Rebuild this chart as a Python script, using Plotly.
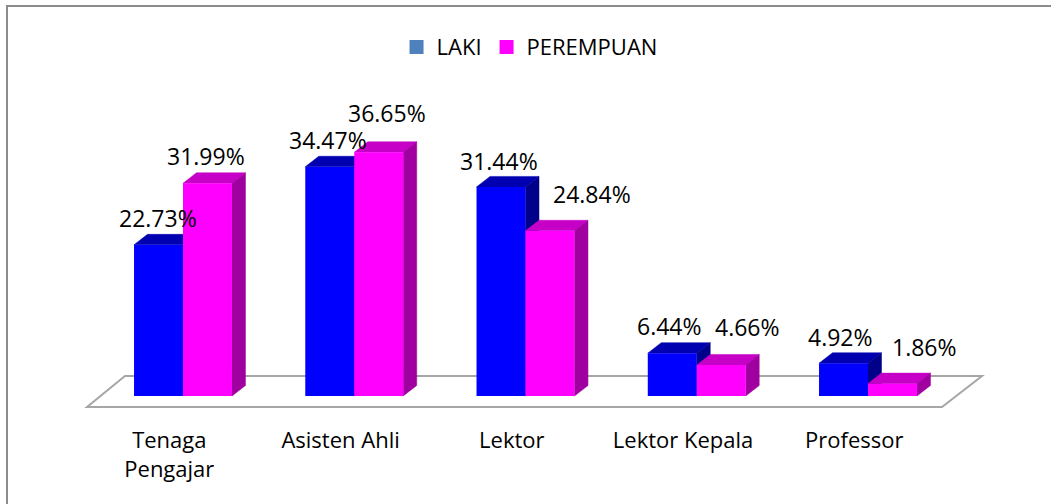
import plotly.graph_objects as go

# ---------------- data ----------------
CATEGORIES = ["Tenaga Pengajar", "Asisten Ahli", "Lektor", "Lektor Kepala", "Professor"]
LAKI = [22.73, 34.47, 31.44, 6.44, 4.92]
PEREMPUAN = [31.99, 36.65, 24.84, 4.66, 1.86]
SERIES_NAMES = ["LAKI", "PEREMPUAN"]

# ---------------- style ----------------
FONT = "Open Sans"
FRONT = ["#0000FF", "#FF00FF"]
TOP = ["#0000B0", "#C600C6"]
SIDE = ["#00008A", "#A000A0"]
LEGEND_SWATCH = ["#4F81BD", "#FF00FF"]
BAR_W = 0.286        # bar width in category units
DEPTH_X = 0.0788     # 3D depth offset (x units)
DEPTH_Y = 1.58       # 3D depth offset (y units)
TICK_SHIFT = -0.08   # perspective shift of category labels
# label nudges in pixels (dx, dy) per series/category
LABEL_NUDGE = [
    [(-7, -16), (-9, -16), (-9, -15), (-10, -17), (-10, -16)],
    [(-8, -17), (2, -29), (35, -26), (20, -28), (25, -26)],
]

n = len(CATEGORIES)
series = [LAKI, PEREMPUAN]
fig = go.Figure()
shapes = []

# floor (decorative 3D plane)
fl_front, fl_back = -1.654, 3.008
fl_x = [-0.5606, -0.3387, (n - 1) + 0.6657, (n - 1) + 0.432]
shapes.append(dict(
    type="path", xref="x", yref="y", layer="below",
    path=(f"M{fl_x[0]},{fl_front} L{fl_x[1]},{fl_back} "
          f"L{fl_x[2]},{fl_back} L{fl_x[3]},{fl_front} Z"),
    fillcolor="white", line=dict(color="#A6A6A6", width=2),
))

annotations = []
for i in range(n):
    for s, vals in enumerate(series):
        v = vals[i]
        x0 = i - BAR_W if s == 0 else i
        x1 = x0 + BAR_W
        # top face
        shapes.append(dict(
            type="path", xref="x", yref="y", layer="below",
            path=(f"M{x0},{v} L{x1},{v} L{x1 + DEPTH_X},{v + DEPTH_Y} "
                  f"L{x0 + DEPTH_X},{v + DEPTH_Y} Z"),
            fillcolor=TOP[s], line=dict(color=TOP[s], width=0.5),
        ))
        # side face
        shapes.append(dict(
            type="path", xref="x", yref="y", layer="below",
            path=(f"M{x1},0 L{x1 + DEPTH_X},{DEPTH_Y} L{x1 + DEPTH_X},{v + DEPTH_Y} "
                  f"L{x1},{v} Z"),
            fillcolor=SIDE[s], line=dict(color=SIDE[s], width=0.5),
        ))
        dxp, dyp = LABEL_NUDGE[s][i]
        annotations.append(dict(
            x=(x0 + x1) / 2 + DEPTH_X / 2, y=v + DEPTH_Y, xref="x", yref="y",
            text=f"{v:.2f}%", showarrow=False,
            xanchor="center", yanchor="middle",
            xshift=dxp, yshift=-dyp,
            font=dict(family=FONT, size=23, color="black"),
        ))

# front faces as real bars
for s, vals in enumerate(series):
    xs = [(i - BAR_W / 2) if s == 0 else (i + BAR_W / 2) for i in range(n)]
    fig.add_trace(go.Bar(
        x=xs, y=vals, width=BAR_W, name=SERIES_NAMES[s],
        marker=dict(color=FRONT[s], line=dict(width=0)),
        showlegend=False, hoverinfo="skip",
    ))

# legend entries
for s in range(2):
    fig.add_trace(go.Scatter(
        x=[None], y=[None], mode="markers", name=SERIES_NAMES[s],
        marker=dict(symbol="square", size=14, color=LEGEND_SWATCH[s]),
    ))

# outer chart border (left/top visible, extends beyond the frame)
shapes.append(dict(
    type="rect", xref="paper", yref="paper",
    x0=(7 - 80) / 910, x1=(1070 - 80) / 910,
    y0=(415 - 520) / 325, y1=(415 - 6) / 325,
    line=dict(color="#8C8C8C", width=2), fillcolor="rgba(0,0,0,0)", layer="below",
))

tick_text = [c.replace(" ", "<br>", 1) if c == "Tenaga Pengajar" else c for c in CATEGORIES]

fig.update_layout(
    width=1051, height=504, autosize=False,
    margin=dict(l=80, r=61, t=90, b=89),
    paper_bgcolor="white", plot_bgcolor="white",
    barmode="overlay",
    shapes=shapes, annotations=annotations,
    font=dict(family=FONT, color="black"),
    legend=dict(
        orientation="h", x=0.494, xanchor="center", y=1.132, yanchor="middle",
        font=dict(family=FONT, size=22, color="black"),
        itemwidth=30, bgcolor="rgba(0,0,0,0)",
    ),
    xaxis=dict(
        range=[-0.6015, 4.7124], showgrid=False, zeroline=False, showline=False,
        ticks="", tickmode="array",
        tickvals=[i + TICK_SHIFT for i in range(n)], ticktext=tick_text,
        tickfont=dict(family=FONT, size=22, color="black"),
        ticklabelstandoff=10,
    ),
    yaxis=dict(range=[-2.857, 46.015], visible=False, showgrid=False, zeroline=False),
)

fig.write_html(
    "out.html",
    config={"displayModeBar": False},
    post_script="document.body.style.margin='0';document.body.style.overflow='hidden';",
)
